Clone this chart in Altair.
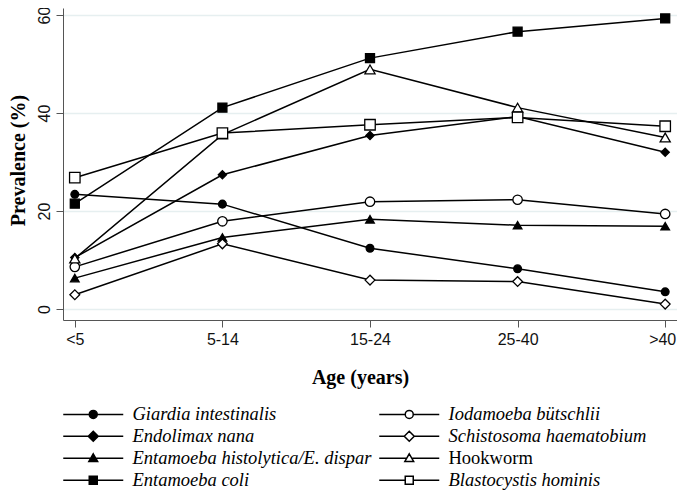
import altair as alt
import pandas as pd

ages = ["<5", "5-14", "15-24", "25-40", ">40"]

series_names = [
    "Giardia intestinalis",
    "Endolimax nana",
    "Entamoeba histolytica/E. dispar",
    "Entamoeba coli",
    "Iodamoeba bütschlii",
    "Schistosoma haematobium",
    "Hookworm",
    "Blastocystis hominis",
]

giardia = [23.4, 21.4, 12.4, 8.2, 3.5]
endolimax = [10.5, 27.4, 35.4, 39.3, 32.0]
histolytica = [6.3, 14.6, 18.3, 17.1, 16.9]
coli = [21.5, 41.1, 51.2, 56.6, 59.3]
iodamoeba = [8.6, 17.9, 21.9, 22.3, 19.4]
schistosoma = [2.9, 13.3, 5.9, 5.6, 1.0]
hookworm = [10.3, 35.6, 48.9, 41.1, 35.0]
blastocystis = [26.8, 35.9, 37.6, 39.1, 37.3]

all_values = [giardia, endolimax, histolytica, coli,
              iodamoeba, schistosoma, hookworm, blastocystis]

# marker styles per series (same order as series_names)
fills = ["black", "black", "black", "black", "white", "white", "white", "white"]
plot_shapes = ["circle", "diamond", "triangle-up", "square",
               "circle", "diamond", "triangle-up", "square"]
marker_sizes = [60, 110, 90, 70, 60, 110, 90, 70]

# legend symbols: line + marker, in unit coordinates
L = 7.5
circle_p = f"M{-L},0H-1M1,0H{L}M-1,0A1,1 0 1,1 1,0A1,1 0 1,1 -1,0Z"
diamond_p = f"M{-L},0H-1.25M1.25,0H{L}M-1.25,0L0,-1.25L1.25,0L0,1.25Z"
tri_p = f"M{-L},0H-0.64M0.64,0H{L}M0,-1.1L1.1,0.8L-1.1,0.8Z"
square_p = f"M{-L},0H-1M1,0H{L}M-1,-1H1V1H-1Z"
legend_paths = [circle_p, diamond_p, tri_p, square_p,
                circle_p, diamond_p, tri_p, square_p]

rows = []
for name, vals in zip(series_names, all_values):
    for i, (a, v) in enumerate(zip(ages, vals)):
        rows.append({"series": name, "age": a, "xi": i, "value": v})
df = pd.DataFrame(rows)

x_enc = alt.X(
    "age:N",
    sort=ages,
    scale=alt.Scale(type="point", padding=0.08),
    axis=alt.Axis(
        title="Age (years)",
        titleFont="Liberation Serif",
        titleFontWeight="bold",
        titleFontSize=20,
        titleColor="black",
        titleX=297,
        titleY=63,
        titleAlign="center",
        titleBaseline="alphabetic",
        labelFont="Liberation Sans",
        labelFontSize=16,
        labelColor="#111111",
        labelAngle=0,
        labelPadding=4,
        labelOffset={"expr": "datum.label == '>40' ? -3 : 0"},
        tickSize=7,
        tickColor="#555555",
        domainColor="#555555",
        grid=False,
    ),
)

y_enc = alt.Y(
    "value:Q",
    scale=alt.Scale(domain=[-2.245, 61.43], nice=False, zero=False),
    axis=alt.Axis(
        values=[0, 20, 40, 60],
        title="Prevalence (%)",
        titleFont="Liberation Serif",
        titleFontWeight="bold",
        titleFontSize=20,
        titleColor="black",
        titleAngle=270,
        titleX=-45,
        titleY=152,
        titleAlign="center",
        titleBaseline="middle",
        labelFont="Liberation Sans",
        labelFontSize=16,
        labelColor="#111111",
        labelAngle=270,
        labelPadding=4,
        tickSize=7,
        tickColor="#555555",
        domainColor="#555555",
        grid=True,
        gridColor="#e6eff0",
        gridWidth=1.5,
    ),
)

lines = alt.Chart(df).mark_line(color="black", strokeWidth=1.5).encode(
    x=x_enc, y=y_enc, detail="series:N", order=alt.Order("xi:Q")
)

points = alt.Chart(df).mark_point(opacity=1, stroke="black", strokeWidth=1.3).encode(
    x=x_enc,
    y=y_enc,
    shape=alt.Shape("series:N", scale=alt.Scale(domain=series_names, range=plot_shapes), legend=None),
    fill=alt.Fill("series:N", scale=alt.Scale(domain=series_names, range=fills), legend=None),
    size=alt.Size("series:N", scale=alt.Scale(domain=series_names, range=marker_sizes), legend=None),
)

leg = alt.Legend(
    title=None,
    orient="none",
    legendX=0,
    legendY=397,
    columns=2,
    padding=0,
    symbolOffset=21,
    labelOffset=30,
    labelFont="Liberation Serif",
    labelFontSize=18.5,
    labelFontStyle={"expr": "datum.label == 'Hookworm' ? 'normal' : 'italic'"},
    labelColor="black",
    labelLimit=400,
    columnPadding=4,
    rowPadding=3,
    symbolSize=64,
    symbolStrokeWidth=1.5,
    symbolStrokeColor="black",
    symbolFillColor="white",
)

legend_layer = alt.Chart(df).transform_filter("false").mark_point(
    opacity=1, stroke="black", strokeWidth=1.5, size=64
).encode(
    shape=alt.Shape("series:N", scale=alt.Scale(domain=series_names, range=legend_paths), legend=leg),
    fill=alt.Fill("series:N", scale=alt.Scale(domain=series_names, range=fills), legend=leg),
)

chart = alt.layer(lines, points, legend_layer).resolve_scale(
    shape="independent", fill="independent", size="independent"
).properties(
    width=614,
    height=312,
    autosize=alt.AutoSizeParams(type="none"),
    padding={"left": 55, "top": 0, "right": 0, "bottom": 176},
    background="white",
).configure_view(strokeWidth=0)

chart.save("out.html", embed_options={"renderer": "svg", "actions": False})
